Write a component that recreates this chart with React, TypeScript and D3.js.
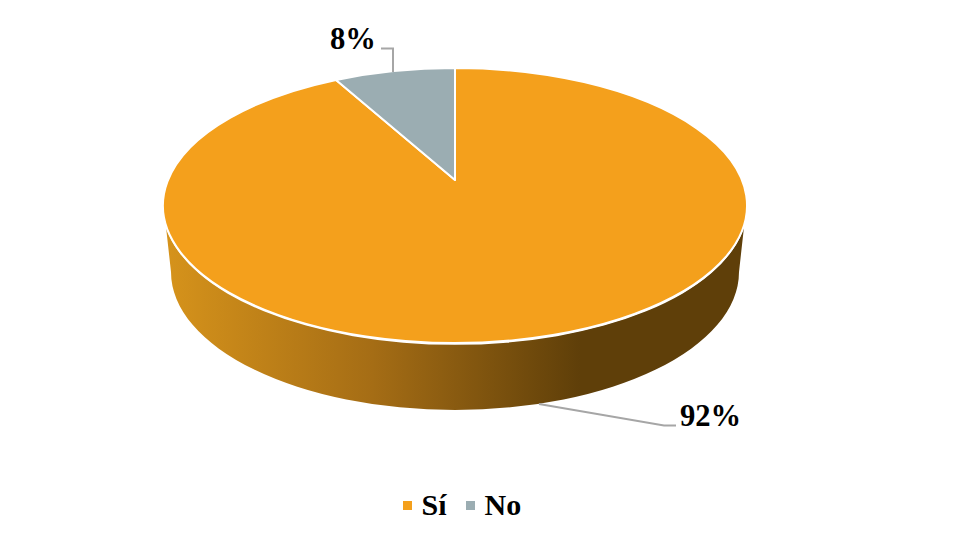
import React from "react";
import * as d3 from "d3";

const categories = ["Sí", "No"];
const seriesValues = [92, 8];
const valueLabels = ["92%", "8%"];
const sliceColors = ["#F4A01C", "#9BADB2"];

const W = 961, H = 536;
const top = { cx: 455, cy: 205.5, rx: 292, ry: 137.5 };
const base = { cx: 455, cy: 272, rx: 284, ry: 138 };
const tilt = 0.185; // perspective shift of the pie centre toward the back

// Project a pie angle (0 = 12 o'clock, clockwise) on the perspective-tilted disc
function project(angle: number, r = 1): [number, number] {
  const x = r * Math.sin(angle);
  const y = r * Math.cos(angle);
  const d = 1 + tilt * y;
  const px = (x * Math.sqrt(1 - tilt * tilt)) / d;
  const py = (y + tilt) / d;
  return [top.cx + px * top.rx, top.cy - py * top.ry];
}

export default function App() {
  const arcs = d3.pie<number>().sort(null)(seriesValues);

  const slicePath = (a: d3.PieArcDatum<number>) => {
    const [x0, y0] = project(a.startAngle);
    const [x1, y1] = project(a.endAngle);
    const [mx, my] = project(0, 0);
    const large = a.endAngle - a.startAngle > Math.PI ? 1 : 0;
    return `M${mx},${my}L${x0},${y0}A${top.rx},${top.ry} 0 ${large} 1 ${x1},${y1}Z`;
  };

  const wallPath =
    `M166,227 L${base.cx - base.rx},${base.cy} ` +
    `A${base.rx},${base.ry} 0 0 0 ${base.cx + base.rx},${base.cy} ` +
    `L744,227 A${top.rx},${top.ry} 0 0 1 166,227 Z`;

  const legendX = d3.scaleOrdinal<string, number>().domain(categories).range([403, 466]);

  return (
    <svg
      width={W}
      height={H}
      viewBox={`0 0 ${W} ${H}`}
      style={{ position: "absolute", left: 0, top: 0, background: "#fff" }}
      fontFamily="'Liberation Serif', serif"
      fontWeight="bold"
    >
      <defs>
        <linearGradient id="wall" gradientUnits="userSpaceOnUse" x1={165} y1={0} x2={580} y2={0}>
          <stop offset="0" stopColor="#D6931B" />
          <stop offset="0.5" stopColor="#A56D15" />
          <stop offset="1" stopColor="#5F3F09" />
        </linearGradient>
      </defs>

      <path d={wallPath} fill="url(#wall)" />

      {arcs.map((a, i) => (
        <path key={categories[i]} d={slicePath(a)} fill={sliceColors[i]} stroke="#fff" strokeWidth={2} strokeLinejoin="round" />
      ))}

      <polyline points="539,404 664,425.5 676,425.5" fill="none" stroke="#A6A6A6" strokeWidth={2} />
      <polyline points="381,48.5 393,48.5 393,72" fill="none" stroke="#A6A6A6" strokeWidth={2} />

      <text x={680} y={426} fontSize={30.6} fill="#000">{valueLabels[0]}</text>
      <text x={330} y={49} fontSize={30.6} fill="#000">{valueLabels[1]}</text>

      {categories.map((c, i) => (
        <g key={c}>
          <rect x={legendX(c)} y={501} width={9} height={9} fill={sliceColors[i]} />
          <text x={legendX(c)! + 18.5} y={515} fontSize={30} fill="#000">{c}</text>
        </g>
      ))}
    </svg>
  );
}
